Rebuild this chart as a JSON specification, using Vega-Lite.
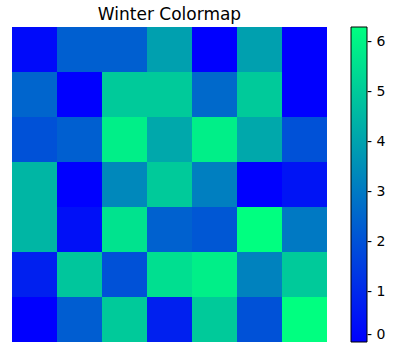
{
  "$schema": "https://vega.github.io/schema/vega-lite/v6.json",
  "width": 315,
  "height": 315,
  "padding": {"left": 12, "top": 6, "right": 0, "bottom": 0},
  "background": "white",
  "title": {"text": "Winter Colormap", "font": "DejaVu Sans", "fontSize": 17, "fontWeight": "normal", "color": "#000000", "offset": 3},
  "config": {"view": {"stroke": null}},
  "data": {"values": [
    {"col": 0, "row": 0, "v": 0.25}, {"col": 1, "row": 0, "v": 2.35}, {"col": 2, "row": 0, "v": 2.35}, {"col": 3, "row": 0, "v": 3.95}, {"col": 4, "row": 0, "v": 0.0}, {"col": 5, "row": 0, "v": 3.95}, {"col": 6, "row": 0, "v": 0.0},
    {"col": 0, "row": 1, "v": 2.5}, {"col": 1, "row": 1, "v": 0.0}, {"col": 2, "row": 1, "v": 5.0}, {"col": 3, "row": 1, "v": 5.0}, {"col": 4, "row": 1, "v": 2.6}, {"col": 5, "row": 1, "v": 5.0}, {"col": 6, "row": 1, "v": 0.0},
    {"col": 0, "row": 2, "v": 2.0}, {"col": 1, "row": 2, "v": 2.35}, {"col": 2, "row": 2, "v": 5.9}, {"col": 3, "row": 2, "v": 4.15}, {"col": 4, "row": 2, "v": 5.9}, {"col": 5, "row": 2, "v": 4.15}, {"col": 6, "row": 2, "v": 2.0},
    {"col": 0, "row": 3, "v": 4.5}, {"col": 1, "row": 3, "v": 0.0}, {"col": 2, "row": 3, "v": 3.35}, {"col": 3, "row": 3, "v": 5.0}, {"col": 4, "row": 3, "v": 3.15}, {"col": 5, "row": 3, "v": 0.0}, {"col": 6, "row": 3, "v": 0.5},
    {"col": 0, "row": 4, "v": 4.5}, {"col": 1, "row": 4, "v": 0.4}, {"col": 2, "row": 4, "v": 5.6}, {"col": 3, "row": 4, "v": 2.4}, {"col": 4, "row": 4, "v": 2.15}, {"col": 5, "row": 4, "v": 6.3}, {"col": 6, "row": 4, "v": 3.0},
    {"col": 0, "row": 5, "v": 0.8}, {"col": 1, "row": 5, "v": 4.9}, {"col": 2, "row": 5, "v": 2.0}, {"col": 3, "row": 5, "v": 5.5}, {"col": 4, "row": 5, "v": 5.9}, {"col": 5, "row": 5, "v": 3.2}, {"col": 6, "row": 5, "v": 5.0},
    {"col": 0, "row": 6, "v": 0.0}, {"col": 1, "row": 6, "v": 2.3}, {"col": 2, "row": 6, "v": 5.0}, {"col": 3, "row": 6, "v": 0.8}, {"col": 4, "row": 6, "v": 5.0}, {"col": 5, "row": 6, "v": 2.0}, {"col": 6, "row": 6, "v": 6.3}
  ]},
  "mark": {"type": "rect"},
  "encoding": {
    "x": {"field": "col", "type": "ordinal", "axis": null, "scale": {"paddingInner": 0, "paddingOuter": 0}},
    "y": {"field": "row", "type": "ordinal", "axis": null, "scale": {"paddingInner": 0, "paddingOuter": 0}},
    "color": {
      "field": "v", "type": "quantitative",
      "scale": {"domain": [0, 6.3], "range": ["#0000ff", "#00ff80"], "interpolate": "rgb", "nice": false, "zero": false},
      "legend": {
        "title": null,
        "type": "gradient",
        "direction": "vertical",
        "gradientLength": 315,
        "gradientThickness": 16,
        "gradientStrokeColor": "#000000",
        "gradientStrokeWidth": 1,
        "values": [0, 1, 2, 3, 4, 5, 6],
        "labelExpr": "'- ' + datum.label",
        "labelFont": "DejaVu Sans",
        "labelFontSize": 14,
        "labelColor": "#000000",
        "labelBaseline": "middle",
        "labelOffset": 0,
        "labelOverlap": false,
        "offset": 24,
        "padding": 0
      }
    }
  }
}
